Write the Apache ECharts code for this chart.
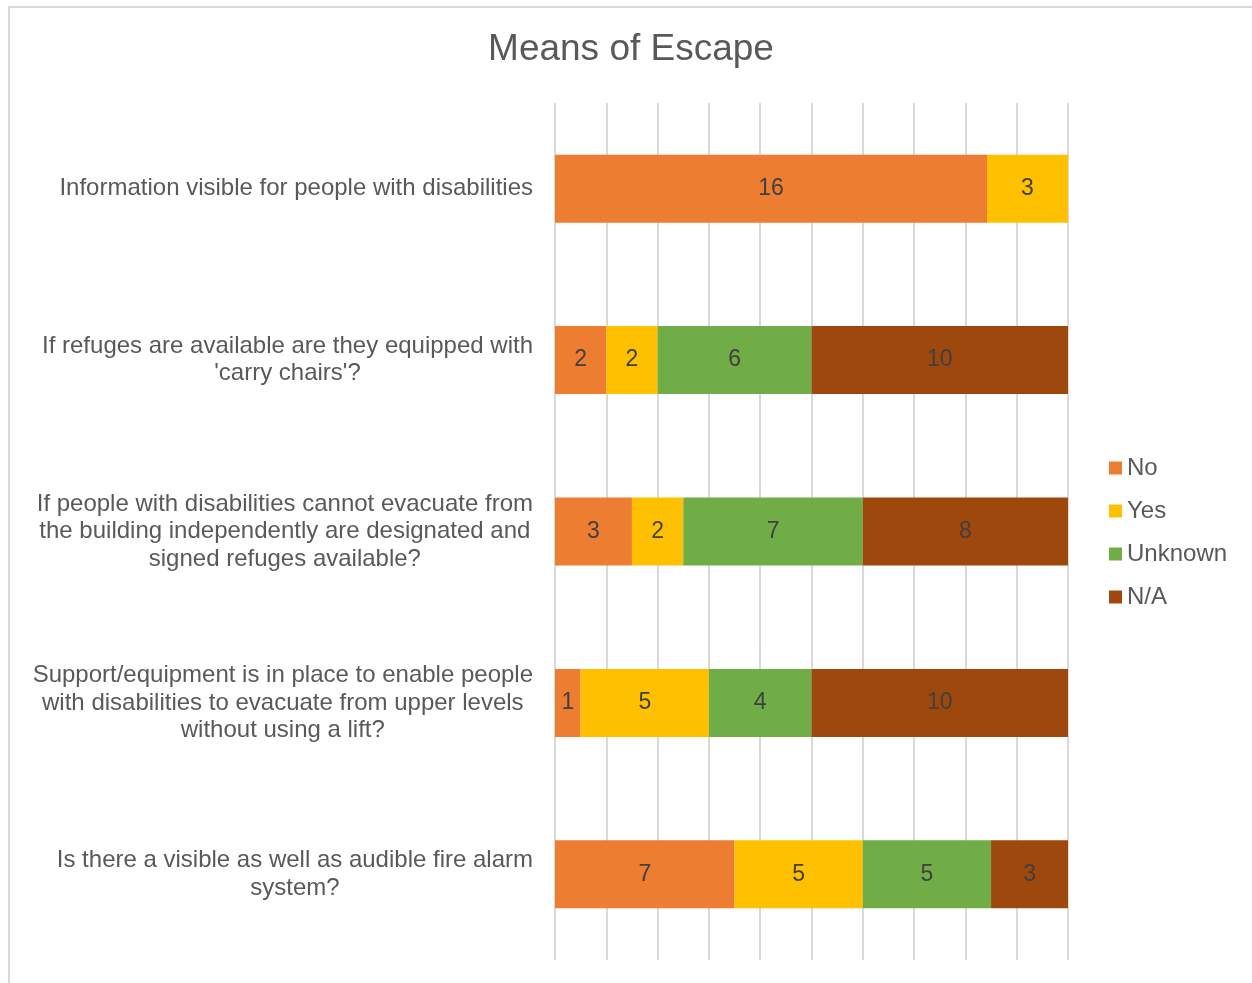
<!DOCTYPE html>
<html>
<head>
<meta charset="utf-8">
<title>Means of Escape</title>
<script src="https://cdn.jsdelivr.net/npm/echarts@6/dist/echarts.min.js"></script>
<style>
  html, body { margin: 0; padding: 0; background: #ffffff; }
  #chart { width: 1252px; height: 983px; }
</style>
</head>
<body>
<div id="chart"></div>
<script>
// Survey questions (top to bottom), with line breaks as laid out beside the bars
const categories = [
  'Information visible for people with disabilities',
  "If refuges are available are they equipped with\n'carry chairs'?",
  'If people with disabilities cannot evacuate from\nthe building independently are designated and\nsigned refuges available?',
  'Support/equipment is in place to enable people\nwith disabilities to evacuate from upper levels\nwithout using a lift?',
  'Is there a visible as well as audible fire alarm\nsystem?'
];

// Answer counts per question
const seriesNames = ['No', 'Yes', 'Unknown', 'N/A'];
const noValues      = [16, 2, 3, 1, 7];
const yesValues     = [3, 2, 2, 5, 5];
const unknownValues = [0, 6, 7, 4, 5];
const naValues      = [0, 10, 8, 10, 3];

const colors = ['#ED7D31', '#FFC000', '#70AD47', '#9E480E'];
const allValues = [noValues, yesValues, unknownValues, naValues];

// Each bar is shown as a share of its question's total (100% stacked)
const totals = categories.map((_, i) => allValues.reduce((s, arr) => s + arr[i], 0));

const FONT = '"Liberation Sans", Arial, sans-serif';

const chart = echarts.init(document.getElementById('chart'), null, { renderer: 'canvas' });

const series = seriesNames.map((name, k) => ({
  name: name,
  type: 'bar',
  stack: 'total',
  barWidth: 68,
  itemStyle: { color: colors[k] },
  label: {
    show: true,
    position: 'inside',
    color: '#404040',
    fontFamily: FONT,
    fontSize: 23,
    formatter: p => (p.data.raw ? String(p.data.raw) : '')
  },
  emphasis: { disabled: true },
  data: allValues[k].map((v, i) => ({ value: v / totals[i] * 100, raw: v }))
}));

chart.setOption({
  animation: false,
  backgroundColor: '#ffffff',
  textStyle: { fontFamily: FONT },
  title: {
    text: 'Means of Escape',
    left: 631,
    textAlign: 'center',
    top: 31,
    padding: 0,
    textStyle: { fontFamily: FONT, fontSize: 37, fontWeight: 'normal', color: '#595959' }
  },
  legend: {
    orient: 'vertical',
    left: 1109,
    top: 456,
    padding: 0,
    icon: 'rect',
    itemWidth: 13,
    itemHeight: 13,
    itemGap: 19,
    selectedMode: false,
    textStyle: { fontFamily: FONT, fontSize: 24, color: '#595959', lineHeight: 24 },
    data: seriesNames
  },
  grid: { left: 555, right: 184, top: 103, bottom: 23, containLabel: false },
  xAxis: {
    type: 'value',
    min: 0,
    max: 100,
    interval: 10,
    axisLabel: { show: false },
    axisLine: { show: false },
    axisTick: { show: false },
    splitLine: { show: true, lineStyle: { color: '#d9d9d9', width: 2 } }
  },
  yAxis: {
    type: 'category',
    inverse: true,
    data: categories,
    axisLine: { show: false },
    axisTick: { show: false },
    axisLabel: {
      margin: 22,
      formatter: v => v.split('\n').map(line => '{c|' + line + '}').join('\n'),
      rich: {
        c: { align: 'center', fontFamily: FONT, fontSize: 24, color: '#595959', lineHeight: 27.5 }
      }
    }
  },
  graphic: [{
    type: 'rect',
    silent: true,
    z: 100,
    shape: { x: 9, y: 7, width: 1300, height: 1100 },
    style: { fill: null, stroke: '#d9d9d9', lineWidth: 2 }
  }],
  series: series
});
</script>
</body>
</html>
